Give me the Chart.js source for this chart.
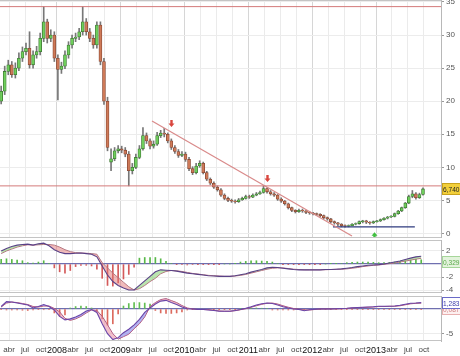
<!DOCTYPE html>
<html>
<head>
<meta charset="utf-8">
<script src="https://cdn.jsdelivr.net/npm/chart.js@4.4.1/dist/chart.umd.min.js"></script>
<style>
  html, body { margin: 0; padding: 0; background: #fff; }
  #wrap { position: relative; width: 460px; height: 356px; overflow: hidden; }
  canvas { position: absolute; left: 0; }
</style>
</head>
<body>
<div id="wrap">
  <canvas id="priceChart" width="460" height="238" style="top:0"></canvas>
  <canvas id="macdChart" width="460" height="53" style="top:240px"></canvas>
  <canvas id="oscChart" width="460" height="60" style="top:296px"></canvas>
</div>
<script>
// x axis is in months counted from Jan 2007
const firstYear = 2007;
const quarterNames = ['', 'abr', 'jul', 'oct'];

// price candles (one every ~20 days, starting mid Feb 2007)
const opens = [20.0,21.5,24.5,25.5,24.0,25.0,26.5,27.5,28.0,25.5,
  27.0,27.5,29.5,32.0,29.5,30.0,26.5,24.8,25.3,27.0,
  28.5,29.5,29.7,30.5,32.0,30.5,29.5,28.5,31.5,26.0,
  20.0,10.8,11.3,12.5,12.8,12.6,12.0,9.5,10.0,11.5,
  12.8,14.8,14.0,13.2,13.5,14.8,15.2,15.0,14.0,13.0,
  12.4,11.8,12.0,11.2,9.8,9.2,10.2,10.6,9.2,8.2,
  7.6,7.0,6.6,5.8,5.3,5.0,4.9,4.8,5.1,5.3,
  5.6,5.5,5.8,6.0,6.2,6.8,6.3,6.0,5.8,5.2,
  4.9,4.5,3.9,3.5,3.3,3.5,3.4,3.2,3.1,3.0,
  2.9,2.7,2.4,2.2,1.8,1.6,1.4,1.2,1.1,1.2,
  1.4,1.5,1.8,1.9,1.7,1.6,1.8,1.9,2.1,2.3,
  2.5,2.6,3.0,3.4,3.9,4.6,5.6,6.0,5.4,5.9];
const highs = [22.3,25.3,26.2,26.0,25.8,27.3,28.2,28.8,30.5,27.6,
  28.3,30.3,34.3,32.4,30.8,30.5,27.0,25.9,27.6,29.0,
  30.0,30.3,31.0,34.3,32.5,31.0,30.0,32.0,32.0,26.5,
  20.6,12.8,13.0,13.3,13.2,13.0,12.4,10.6,12.0,13.3,
  16.0,15.2,14.3,14.0,15.3,15.6,15.9,15.2,14.3,13.3,
  12.7,12.4,12.3,11.5,10.1,10.6,11.0,10.8,9.4,8.4,
  7.8,7.2,6.8,6.0,5.5,5.2,5.1,5.3,5.5,5.8,
  5.8,6.0,6.2,6.4,7.2,6.9,6.5,6.2,5.9,5.4,
  5.0,4.6,4.0,3.6,3.7,3.7,3.5,3.3,3.2,3.1,
  3.0,2.8,2.5,2.3,1.9,1.7,1.5,1.3,1.3,1.5,
  1.6,1.9,2.0,2.0,1.8,1.9,2.0,2.2,2.4,2.6,
  2.7,3.1,3.5,4.0,4.7,5.8,6.5,6.2,6.1,6.9];
const lows = [19.6,21.0,24.0,23.6,23.5,24.6,26.0,27.0,25.0,25.0,
  26.5,27.0,29.0,28.8,29.0,26.0,20.2,24.2,24.9,26.5,
  28.0,29.0,29.3,30.0,30.0,29.0,28.0,28.0,25.5,19.5,
  12.5,9.5,11.0,12.2,12.2,11.6,7.2,9.0,9.8,11.3,
  12.6,13.6,12.8,12.9,13.3,14.5,14.6,13.7,12.7,12.1,
  11.5,11.6,10.9,9.5,8.9,9.0,10.0,9.0,8.0,7.4,
  6.8,6.4,5.6,5.1,4.8,4.7,4.6,4.7,5.0,5.2,
  5.3,5.4,5.7,5.9,6.1,6.1,5.8,5.6,5.0,4.7,
  4.3,3.7,3.3,3.1,3.2,3.2,3.0,2.9,2.8,2.7,
  2.5,2.2,2.0,1.6,1.4,1.2,1.0,0.95,1.0,1.2,
  1.3,1.4,1.6,1.5,1.4,1.5,1.7,1.8,2.0,2.2,
  2.4,2.5,2.9,3.3,3.8,4.5,5.4,5.2,5.3,5.8];
const closes = [21.5,24.5,25.5,24.0,25.0,26.5,27.5,28.0,25.5,27.0,
  27.5,29.5,32.0,29.5,30.0,26.5,24.8,25.3,27.0,28.5,
  29.5,29.7,30.5,32.0,30.5,29.5,28.5,31.5,26.0,20.0,
  13.0,11.3,12.5,12.8,12.6,12.0,9.5,10.0,11.5,12.8,
  14.8,14.0,13.2,13.5,14.8,15.2,15.0,14.0,13.0,12.4,
  11.8,12.0,11.2,9.8,9.2,10.2,10.6,9.2,8.2,7.6,
  7.0,6.6,5.8,5.3,5.0,4.9,4.8,5.1,5.3,5.6,
  5.5,5.8,6.0,6.2,6.8,6.3,6.0,5.8,5.2,4.9,
  4.5,3.9,3.5,3.3,3.5,3.4,3.2,3.1,3.0,2.9,
  2.7,2.4,2.2,1.8,1.6,1.4,1.2,1.1,1.2,1.4,
  1.5,1.8,1.9,1.7,1.6,1.8,1.9,2.1,2.3,2.5,
  2.6,3.0,3.4,3.9,4.6,5.6,6.0,5.4,5.9,6.74];

// drawn lines on the price panel: [month, value] pairs
const resistanceTop = [[0, 34.3], [90, 34.3]];
const resistanceMid = [[0, 7.2], [90, 7.2]];
const trendLine = [[29.87, 17.0], [67.48, -0.38]];
const supportLine = [[63.9, 1.0], [79.3, 1.0]];
const arrowMonths = [33.4, 51.5, 71.6];
const arrowTips = [16.1, 7.8, 0.2];
const arrowDirs = ['down', 'down', 'up'];

// indicators, one sample per month starting mid Feb 2007
const macdLine = [2.0,2.4,2.7,2.9,3.0,3.05,2.9,3.1,3.2,2.8,
  2.2,1.8,1.6,1.6,1.65,1.7,1.6,1.5,1.1,-0.3,
  -1.7,-2.7,-3.3,-3.7,-4.0,-4.0,-3.3,-2.6,-1.9,-1.2,
  -0.9,-0.95,-1.0,-1.1,-1.25,-1.4,-1.5,-1.6,-1.7,-1.8,
  -1.85,-1.9,-1.9,-1.9,-1.8,-1.65,-1.5,-1.25,-1.05,-0.85,
  -0.6,-0.5,-0.55,-0.65,-0.75,-0.85,-0.9,-0.9,-0.9,-0.9,
  -0.9,-0.85,-0.85,-0.8,-0.75,-0.65,-0.55,-0.4,-0.3,-0.2,
  -0.15,-0.1,0.0,0.15,0.3,0.45,0.7,0.9,1.1,1.2];
const macdSignal = [1.6,2.0,2.3,2.6,2.8,2.95,2.9,2.95,3.0,3.0,
  2.9,2.6,2.2,1.9,1.75,1.7,1.65,1.6,1.5,0.2,
  -0.6,-1.4,-2.1,-2.8,-3.5,-4.0,-3.8,-3.3,-2.7,-2.2,
  -1.5,-1.15,-1.0,-1.05,-1.15,-1.3,-1.45,-1.55,-1.65,-1.75,
  -1.8,-1.85,-1.9,-1.9,-1.85,-1.75,-1.6,-1.4,-1.2,-1.0,
  -0.8,-0.65,-0.6,-0.6,-0.7,-0.8,-0.85,-0.9,-0.9,-0.9,
  -0.9,-0.88,-0.85,-0.82,-0.8,-0.75,-0.65,-0.55,-0.4,-0.3,
  -0.2,-0.15,-0.05,0.05,0.15,0.3,0.45,0.6,0.75,0.87];
const macdHist = [0.7,0.8,0.7,0.6,0.5,0.2,0.15,0.3,0.5,0.1,
  -0.6,-1.2,-1.4,-1.0,-0.4,-0.2,-0.2,-0.3,-0.8,-2.2,
  -3.3,-3.4,-2.9,-2.3,-1.6,-0.5,0.9,1.0,1.0,1.0,
  0.8,0.4,0.1,-0.05,-0.1,-0.15,-0.1,-0.05,-0.05,-0.03,
  -0.03,-0.02,0.0,0.0,0.05,0.3,0.4,0.5,0.5,0.45,
  0.4,0.3,0.1,-0.05,-0.05,-0.05,-0.05,-0.03,-0.03,-0.03,
  -0.02,0.0,0.05,0.05,0.1,0.2,0.25,0.3,0.3,0.3,
  0.25,0.2,0.2,0.25,0.3,0.4,0.5,0.6,0.7,0.65];

const oscLine = [0.5,1.5,1.4,1.2,1.0,0.8,0.2,0.5,0.9,0.5,
  -0.2,-1.5,-2.2,-2.0,-1.6,-1.1,-0.4,-0.1,-0.7,-3.0,
  -5.0,-6.2,-5.8,-4.8,-4.1,-3.2,-2.1,-0.7,0.2,1.0,
  1.6,1.75,1.3,0.9,0.4,0.05,0.0,-0.1,-0.1,-0.2,
  -0.3,-0.45,-0.45,-0.45,-0.3,-0.1,0.15,0.45,0.8,1.05,
  1.2,1.1,0.8,0.45,0.2,0.0,-0.1,-0.35,-0.15,-0.05,
  0.0,0.0,0.0,0.05,0.1,0.15,0.25,0.3,0.35,0.4,
  0.45,0.55,0.55,0.55,0.6,0.75,0.95,1.15,1.2,1.28];
const oscSignal = [0.4,1.2,1.4,1.3,1.1,0.9,0.5,0.4,0.6,0.6,
  0.1,-0.6,-1.9,-2.3,-2.0,-1.5,-0.8,-0.2,-0.3,-1.5,
  -3.2,-5.0,-6.1,-5.6,-5.1,-4.0,-3.0,-1.6,0.5,1.3,
  1.9,2.1,1.7,1.3,0.7,0.2,0.0,-0.1,-0.1,-0.15,
  -0.25,-0.4,-0.45,-0.45,-0.35,-0.15,0.05,0.35,0.65,0.95,
  1.15,1.2,1.0,0.65,0.35,0.1,-0.05,-0.2,-0.2,-0.1,
  -0.02,0.0,0.0,0.02,0.05,0.1,0.2,0.25,0.3,0.35,
  0.4,0.5,0.5,0.55,0.55,0.65,0.85,1.05,1.15,1.2];
const oscHist = [-0.1,-0.2,-0.2,-0.2,-0.25,-0.3,-0.2,-0.1,-0.15,-0.1,
  -0.8,-1.5,-1.2,0.2,0.5,0.6,0.5,0.2,-0.6,-2.0,
  -3.3,-3.0,-1.0,0.6,1.1,1.3,1.3,1.2,1.0,-0.3,
  -0.8,-0.9,-0.9,-0.8,-0.6,-0.2,-0.05,-0.05,-0.05,-0.05,
  -0.05,-0.05,-0.05,-0.05,-0.05,0.1,0.15,0.2,0.2,0.15,
  0.1,-0.2,-0.2,-0.2,-0.2,-0.2,-0.1,-0.1,-0.1,-0.1,
  -0.1,-0.1,-0.1,-0.1,-0.1,-0.1,-0.1,-0.1,-0.1,-0.1,
  -0.1,-0.1,-0.1,-0.1,-0.1,-0.1,-0.1,-0.1,-0.1,-0.1];

// last values shown in the right hand tags
const lastPrice = 6.74;
const lastMacdHist = 0.329;
const lastOsc = 1.283;
const lastOscHist = 0.087;

const X_MIN = 1.28, X_MAX = 84.22;
const FONT = '"Liberation Sans", Arial, sans-serif';
Chart.defaults.font.family = FONT;

const candleX = closes.map((_, i) => 1.5 + i * 2 / 3);
const monthX = macdLine.map((_, k) => 1.5 + k);
const quarterTicks = [];
for (let m = 3; m <= 81; m += 3) quarterTicks.push(m);

const fmt = v => v.toFixed(3).replace('.', ',');
const pts = (xs, ys) => xs.map((x, i) => ({ x, y: ys[i] }));
const segment = pairs => pairs.map(p => ({ x: p[0], y: p[1] }));

function xAxis(showLabels) {
  return {
    type: 'linear', min: X_MIN, max: X_MAX, offset: false,
    afterBuildTicks: s => { s.ticks = quarterTicks.map(v => ({ value: v })); },
    afterFit: s => { s.height = showLabels ? 15 : 0; s.paddingLeft = 0; s.paddingRight = 0; },
    grid: {
      offset: false, drawTicks: false,
      color: c => (c.tick && c.tick.value % 12 === 0) ? '#d6d6d6' : '#ebebeb'
    },
    border: { display: false },
    ticks: {
      display: showLabels, autoSkip: false, maxRotation: 0, padding: 4,
      color: c => (c.tick && c.tick.value % 12 === 0) ? '#111' : '#444',
      font: c => (c.tick && c.tick.value % 12 === 0) ? { size: 9 } : { size: 8 },
      callback: v => v % 12 === 0 ? String(firstYear + v / 12) : quarterNames[(v % 12) / 3]
    }
  };
}

function yAxis(min, max, step, zeroColor) {
  return {
    position: 'right', min, max,
    afterFit: s => { s.width = 19; s.paddingTop = 0; s.paddingBottom = 0; },
    grid: {
      tickLength: 3, tickColor: '#999',
      color: c => (zeroColor && c.tick && c.tick.value === 0) ? zeroColor : '#ececec',
      lineWidth: c => (zeroColor && c.tick && c.tick.value === 0) ? 1.2 : 1
    },
    border: { display: true, color: '#b8b8b8' },
    ticks: { stepSize: step, includeBounds: false, padding: 2, color: '#555', font: { size: 8 } }
  };
}

// panel frame, value tags and arrows
const panelPlugin = {
  id: 'panel',
  afterDatasetsDraw(chart, args, opts) {
    const ctx = chart.ctx, a = chart.chartArea;
    const xs = chart.scales.x, ys = chart.scales.y;
    (opts.arrows || []).forEach(ar => {
      const x = Math.round(xs.getPixelForValue(ar.x)) + 0.5;
      const y = ys.getPixelForValue(ar.y);
      const d = ar.dir === 'down' ? -1 : 1;
      ctx.save();
      ctx.fillStyle = ar.color;
      ctx.beginPath();
      ctx.moveTo(x, y);
      ctx.lineTo(x + 3, y + d * 3.5);
      ctx.lineTo(x + 1.2, y + d * 3.5);
      ctx.lineTo(x + 1.2, y + d * 7);
      ctx.lineTo(x - 1.2, y + d * 7);
      ctx.lineTo(x - 1.2, y + d * 3.5);
      ctx.lineTo(x - 3, y + d * 3.5);
      ctx.closePath();
      ctx.fill();
      ctx.restore();
    });
    ctx.save();
    ctx.strokeStyle = '#c4c4c4';
    ctx.lineWidth = 1;
    ctx.beginPath();
    ctx.moveTo(a.left, a.top + 0.5); ctx.lineTo(a.right, a.top + 0.5);
    ctx.moveTo(a.left, a.bottom - 0.5); ctx.lineTo(a.right, a.bottom - 0.5);
    ctx.stroke();
    ctx.restore();
  },
  afterDraw(chart, args, opts) {
    const ctx = chart.ctx, ys = chart.scales.y;
    (opts.tags || []).forEach(t => {
      const y = Math.round(ys.getPixelForValue(t.value));
      ctx.save();
      ctx.fillStyle = t.bg;
      ctx.strokeStyle = t.border;
      ctx.fillRect(442, y - 6, 18, 12);
      ctx.strokeRect(442.5, y - 5.5, 19, 11);
      ctx.fillStyle = t.color;
      ctx.font = '8px ' + FONT;
      ctx.textBaseline = 'middle';
      ctx.fillText(t.text, 443, y + 0.5, 16.5);
      ctx.restore();
    });
  }
};

const common = {
  responsive: false, animation: false, events: [],
  layout: { padding: 0 }
};

// price panel
new Chart(document.getElementById('priceChart'), {
  type: 'bar',
  data: {
    datasets: [
      { type: 'line', data: segment(resistanceTop), borderColor: '#d47a7a', borderWidth: 1, pointRadius: 0, order: -1 },
      { type: 'line', data: segment(resistanceMid), borderColor: '#d47a7a', borderWidth: 1, pointRadius: 0, order: -1 },
      { type: 'line', data: segment(trendLine), borderColor: '#d98a8a', borderWidth: 1.2, pointRadius: 0, order: -1 },
      { type: 'line', data: segment(supportLine), borderColor: '#2e3a7e', borderWidth: 1.2, pointRadius: 0, order: -1 },
      {
        data: candleX.map((x, i) => ({ x, y: [opens[i], closes[i]] })),
        barThickness: 3, grouped: false, borderWidth: 0.8, borderSkipped: false, order: 0,
        backgroundColor: c => closes[c.dataIndex] >= opens[c.dataIndex] ? '#6fcf5c' : '#cf7a58',
        borderColor: c => closes[c.dataIndex] >= opens[c.dataIndex] ? '#3f7a34' : '#8a4a36'
      },
      {
        data: candleX.map((x, i) => ({ x, y: [lows[i], highs[i]] })),
        barThickness: 1, grouped: false, backgroundColor: '#777', order: 1
      }
    ]
  },
  options: Object.assign({}, common, {
    scales: { x: xAxis(false), y: yAxis(-0.68, 35.3, 5, null) },
    plugins: {
      legend: { display: false }, tooltip: { enabled: false },
      panel: {
        arrows: arrowMonths.map((m, i) => ({
          x: m, y: arrowTips[i], dir: arrowDirs[i],
          color: arrowDirs[i] === 'down' ? '#d9463e' : '#3fbf3f'
        })),
        tags: [{ value: lastPrice, text: fmt(lastPrice), bg: '#f2cf3a', border: '#c9a21c', color: '#222' }]
      }
    }
  }),
  plugins: [panelPlugin]
});

// MACD panel
new Chart(document.getElementById('macdChart'), {
  type: 'bar',
  data: {
    datasets: [
      {
        type: 'line', data: pts(monthX, macdLine), borderColor: '#594187', borderWidth: 1.1, pointRadius: 0,
        fill: { target: 1, above: 'rgba(130,205,110,0.55)', below: 'rgba(226,120,120,0.5)' }, order: -1
      },
      { type: 'line', data: pts(monthX, macdSignal), borderColor: '#b56f86', borderWidth: 1, pointRadius: 0, order: -1 },
      {
        data: pts(monthX, macdHist), barThickness: 1, grouped: false, order: 1,
        backgroundColor: c => macdHist[c.dataIndex] >= 0 ? '#58b848' : '#d45a5a'
      }
    ]
  },
  options: Object.assign({}, common, {
    scales: { x: xAxis(false), y: yAxis(-4.46, 3.69, 2, '#6f6fb0') },
    plugins: {
      legend: { display: false }, tooltip: { enabled: false },
      panel: { tags: [{ value: lastMacdHist, text: fmt(lastMacdHist), bg: '#e3f3dc', border: '#a6d69a', color: '#5aa84a' }] }
    }
  }),
  plugins: [panelPlugin]
});

// oscillator panel
new Chart(document.getElementById('oscChart'), {
  type: 'bar',
  data: {
    datasets: [
      {
        type: 'line', data: pts(monthX, oscLine), borderColor: '#6a45a8', borderWidth: 1.1, pointRadius: 0,
        fill: { target: 1, above: 'rgba(130,130,232,0.6)', below: 'rgba(232,140,160,0.55)' }, order: -1
      },
      { type: 'line', data: pts(monthX, oscSignal), borderColor: '#b04f6e', borderWidth: 1, pointRadius: 0, order: -1 },
      {
        data: pts(monthX, oscHist), barThickness: 1, grouped: false, order: 1,
        backgroundColor: c => oscHist[c.dataIndex] >= 0 ? '#62bf52' : '#dc6a5e'
      }
    ]
  },
  options: Object.assign({}, common, {
    scales: { x: xAxis(true), y: yAxis(-6.48, 2.63, 5, '#6f6fb0') },
    plugins: {
      legend: { display: false }, tooltip: { enabled: false },
      panel: {
        tags: [
          { value: -0.1, text: fmt(lastOscHist), bg: '#fdf0f0', border: '#e8b0b0', color: '#d08080' },
          { value: lastOsc, text: fmt(lastOsc), bg: '#ffffff', border: '#6a6ac8', color: '#3a3aa8' }
        ]
      }
    }
  }),
  plugins: [panelPlugin]
});
</script>
</body>
</html>
